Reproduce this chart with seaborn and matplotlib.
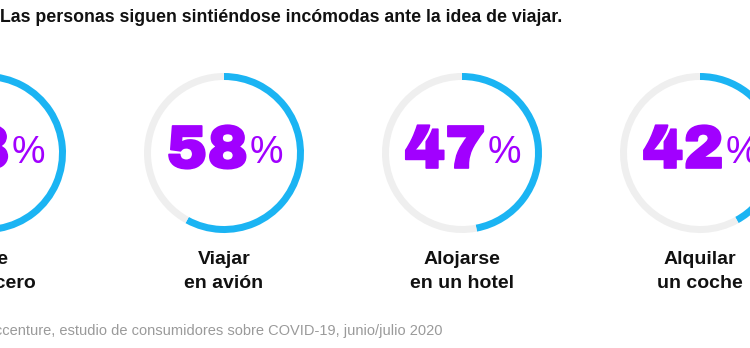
import matplotlib
matplotlib.use("Agg")
import matplotlib.pyplot as plt
import matplotlib.patheffects as pe
import seaborn as sns

# ---- data ----
categories = ["Viaje\nen crucero", "Viajar\nen avión", "Alojarse\nen un hotel", "Alquilar\nun coche"]
values = [63, 58, 47, 42]
title = "Las personas siguen sintiéndose incómodas ante la idea de viajar."
source = "Fuente: Accenture, estudio de consumidores sobre COVID-19, junio/julio 2020"

# ---- style ----
sns.set_theme(style="white")
plt.rcParams["font.family"] = ["DejaVu Sans"]
BLUE = "#1BB4F3"
TRACK = "#EFEFEF"
PURPLE = "#A100FF"

W, H = 750, 348
fig = plt.figure(figsize=(W / 100, H / 100), dpi=100)
ax = fig.add_axes([0, 0, 1, 1])

centers_x = [-14, 224, 462, 700]
cy = H - 153
R = 80
ring = 7

for cx, cat, v in zip(centers_x, categories, values):
    ax.pie([v, 100 - v], colors=[BLUE, TRACK], startangle=90, counterclock=False,
           radius=R, center=(cx, cy), wedgeprops=dict(width=ring, linewidth=0))
    ax.text(cx + 24, cy + 1, f"{v}", ha="right", va="center", color=PURPLE,
            fontsize=44, fontweight="bold", family=["Archivo Black", "DejaVu Sans"],
            path_effects=[pe.withStroke(linewidth=1.2, foreground=PURPLE)])
    ax.text(cx + 26, cy, "%", ha="left", va="center", color=PURPLE,
            fontsize=27, fontweight="normal", family="Liberation Sans")
    l1, l2 = cat.split("\n")
    ax.text(cx, H - 259, l1, ha="center", va="center", color="#111111",
            fontsize=14, fontweight="bold", family="Liberation Sans")
    ax.text(cx, H - 283, l2, ha="center", va="center", color="#111111",
            fontsize=14, fontweight="bold", family="Liberation Sans")

ax.text(0, H - 17, title, ha="left", va="center", color="#111111",
        fontsize=12.8, fontweight="bold", family="Liberation Sans")
ax.text(443, H - 331, source, ha="right", va="center", color="#9a9a9a",
        fontsize=10.5, family="Liberation Sans")

ax.set_xlim(0, W)
ax.set_ylim(0, H)
ax.set_aspect("equal")
ax.axis("off")

fig.savefig("out.png", dpi=100)
